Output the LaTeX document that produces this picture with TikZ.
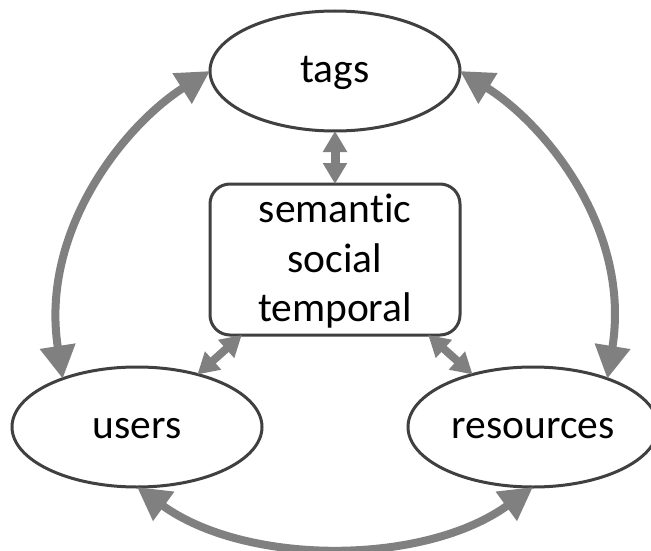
\documentclass[tikz,border=0pt]{standalone}
\usepackage{fontspec}
\setmainfont{Carlito}[Ligatures=NoCommon]
\usetikzlibrary{shapes.geometric,arrows.meta}

\definecolor{outline}{HTML}{404040}
\definecolor{link}{HTML}{808080}

\tikzset{
  entity/.style={ellipse, draw=outline, line width=3pt, fill=white,
    minimum width=250pt, minimum height=120pt, inner sep=0pt, outer sep=0pt,
    text height=30pt, text depth=7pt, font=\fontsize{41.5}{49.5}\selectfont},
  facets/.style={rectangle, rounded corners=20pt, draw=outline, line width=3pt,
    fill=white, minimum width=250pt, minimum height=151pt, inner sep=0pt, outer sep=0pt},
  facetlabel/.style={anchor=base, inner sep=0pt, font=\fontsize{41.5}{49.5}\selectfont},
  bigarrow/.style={draw=link, line width=8pt,
    {Triangle[length=33pt,width=34pt]}-{Triangle[length=33pt,width=34pt]}},
  smallarrow/.style={draw=link, line width=9pt,
    {Triangle[length=21pt,width=23pt]}-{Triangle[length=21pt,width=23pt]}},
}

\begin{document}
\begin{tikzpicture}[x=1pt, y=-1pt]
  \fill[white] (0,0) rectangle (651,551);
  \useasboundingbox (0,0) rectangle (651,551);

  % the three entities of the folksonomy
  \node[entity] (tags) at (335,71) {tags};
  \node[entity] (users) at (137,427) {users};
  \node[entity] (resources) at (533,427) {resources};

  % central box with the three kinds of context
  \node[facets] (box) at (335,259.5) {};
  \node[facetlabel] (sem) at (335,222) {semantic};
  \node[facetlabel] (soc) at (335,272) {social};
  \node[facetlabel] (tmp) at (335,321) {temporal};

  % relations between the entities
  \draw[bigarrow] (tags.west) .. controls (126,124) and (39.5,229.5) .. (users.147);
  \draw[bigarrow] (tags.east) .. controls (545,124) and (631.5,229.5) .. (resources.33);
  \draw[bigarrow] (users.south) .. controls (246,566) and (424,566) .. (resources.south);

  % links to the context box
  \draw[smallarrow] (tags.south) -- (box.north);
  \draw[smallarrow, line width=8pt] (box.219.4) -- (users.41);
  \draw[smallarrow, line width=8pt] (box.-39.4) -- (resources.139);
\end{tikzpicture}
\end{document}
